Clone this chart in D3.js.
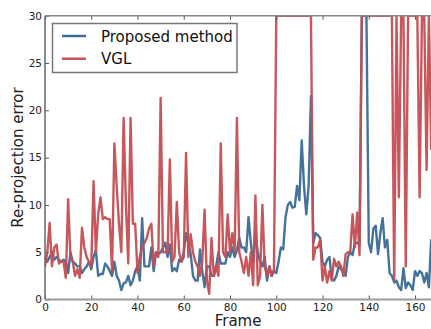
<!DOCTYPE html>
<html>
<head>
<meta charset="utf-8">
<script src="https://cdn.jsdelivr.net/npm/d3@7"></script>
<style>
  body { margin: 0; background: #fff; }
  svg { display: block; }
  .tick text { font-family: "DejaVu Sans", sans-serif; font-size: 10.5px; fill: #222; }
  .tick line { stroke: #555; stroke-width: 1; }
  .axis path.domain { display: none; }
</style>
</head>
<body>
<div id="chart"></div>
<script>
// re-projection error per frame (index = frame number)
const proposed = [
  4.5, 4, 4.5, 5, 4.2, 4.5, 4.2, 4, 4.2, 4,
  2.8, 5, 4, 3.8, 3.5, 3.5, 2.8, 3.2, 3.5, 4,
  3.2, 4.5, 5.2, 2.5, 2.7, 2.7, 3.8, 3.5, 3, 2.5,
  4, 2.5, 2, 1, 1.7, 1.8, 2.5, 1.5, 2, 3,
  3.5, 2, 8.6, 3.5, 3.5, 3.5, 5.5, 3, 5, 4.8,
  5, 5.5, 6, 4.5, 5.8, 3, 3.3, 3, 4.2, 4,
  5, 7, 6, 4.8, 2.5, 2, 2, 5.3, 3, 1.3,
  3.5, 3.5, 2.5, 2.5, 3.5, 5, 3.8, 3.8, 3.8, 5,
  4.5, 5.5, 4.5, 5.2, 6.5, 5.5, 5.5, 5, 8.7, 6,
  4, 7, 5, 4, 3.5, 4.5, 2, 3.5, 2.5, 3,
  2.8, 4, 5.5, 5.3, 8.7, 10, 10.3, 9.7, 9.8, 12,
  10.5, 16.8, 12, 9, 12, 21.5, 6, 7, 6.8, 6.5,
  4, 3.5, 4.2, 4.5, 2.2, 2, 2.5, 3.5, 3.2, 3,
  2.5, 4.5, 5, 4.7, 6, 6, 5.8, 30, 30, 30,
  6, 5, 7.5, 7.8, 4.8, 7, 8.6, 5.5, 6.3, 2.8,
  2.5, 1.8, 2, 1.3, 1, 3.3, 1.2, 1.8, 1.5, 1,
  3, 2.5, 3, 2.8, 1.8, 2.8, 1.3, 6.4
];
const vgl = [
  3.5, 5, 8.1, 3.5, 5.5, 5.8, 3.8, 4, 4, 2.3,
  10.6, 4.5, 4, 2.5, 3.2, 2.3, 7.6, 5.5, 4.5, 4,
  3.5, 12.5, 5, 9, 10.8, 8.5, 8.7, 8.5, 8.5, 3,
  16.5, 12, 8, 5, 19.2, 10, 3.8, 19.2, 8, 8,
  2.8, 4.5, 5.5, 6, 6.5, 7.5, 8, 3.5, 5, 4.5,
  21.3, 5, 5, 5, 14.8, 4, 4.5, 10.3, 5, 4,
  4.5, 15.5, 4.5, 6.9, 5, 4, 3.5, 2.5, 4, 9.5,
  2, 0.6, 6.5, 2.5, 3.5, 2.5, 16.5, 5, 4.5, 9,
  5, 7, 5, 19.2, 5, 4, 2.8, 4.5, 2.5, 5,
  1.5, 11, 1.5, 2.5, 10, 3.5, 2.5, 3.5, 2.5, 3.2,
  30, 30, 30, 30, 30, 30, 30, 30, 30, 30,
  30, 30, 30, 30, 30, 30, 4.2, 5.5, 5.5, 6.3,
  2, 3.5, 1.8, 3, 2, 4.3, 3.5, 4, 3.5, 2.5,
  4.8, 5, 5, 9, 5.5, 9.2, 4.7, 30, 30, 30,
  30, 30, 30, 30, 30, 30, 30, 30, 30, 30,
  30, 2, 30, 10.8, 30, 30, 3.5, 30, 30, 30,
  30, 30, 10.8, 30, 30, 13.7, 30, 15.8
];
const seriesNames = ['Proposed method', 'VGL'];
const seriesColors = ['#3a6a98', '#c44e52'];
const xTicks = [0, 20, 40, 60, 80, 100, 120, 140, 160];
const yTicks = [0, 5, 10, 15, 20, 25, 30];

const W = 431, H = 329;
const plotL = 45, plotR = 431.2, plotT = 15.7, plotB = 299.5;

const svg = d3.select('#chart').append('svg')
  .attr('width', W)
  .attr('height', H);

const x = d3.scaleLinear().domain([0, 167]).range([plotL, plotR]);
const y = d3.scaleLinear().domain([0, 30]).range([plotB, plotT]);

svg.append('clipPath').attr('id', 'plot-clip')
  .append('rect')
  .attr('x', plotL).attr('y', plotT)
  .attr('width', plotR - plotL).attr('height', plotB - plotT);

// series lines, VGL drawn on top
const line = d3.line()
  .x((d, i) => x(i))
  .y(d => y(d));

const plot = svg.append('g').attr('clip-path', 'url(#plot-clip)');
[proposed, vgl].forEach((s, k) => {
  plot.append('path')
    .datum(s)
    .attr('d', line)
    .attr('fill', 'none')
    .attr('stroke', seriesColors[k])
    .attr('stroke-width', 2.4)
    .attr('stroke-opacity', 0.95)
    .attr('stroke-linejoin', 'round');
});

// axes, ticks pointing inward
svg.append('g')
  .attr('class', 'axis')
  .attr('transform', 'translate(0,' + plotB + ')')
  .call(d3.axisBottom(x).tickValues(xTicks).tickSizeInner(-4).tickSizeOuter(0).tickPadding(4));
svg.append('g')
  .attr('class', 'axis')
  .attr('transform', 'translate(0,' + plotT + ')')
  .call(d3.axisTop(x).tickValues(xTicks).tickSizeInner(-4).tickSizeOuter(0).tickFormat(''));
svg.append('g')
  .attr('class', 'axis')
  .attr('transform', 'translate(' + plotL + ',0)')
  .call(d3.axisLeft(y).tickValues(yTicks).tickSizeInner(-4).tickSizeOuter(0).tickPadding(3));

// spines
svg.append('line').attr('x1', plotL).attr('x2', plotL).attr('y1', plotT).attr('y2', plotB)
  .attr('stroke', '#666').attr('stroke-width', 1.5);
svg.append('line').attr('x1', plotL).attr('x2', W).attr('y1', plotB).attr('y2', plotB)
  .attr('stroke', '#999').attr('stroke-width', 1.8);
svg.append('line').attr('x1', plotL).attr('x2', W).attr('y1', plotT).attr('y2', plotT)
  .attr('stroke', '#888').attr('stroke-width', 1.5);

// axis titles
svg.append('text')
  .attr('x', (plotL + plotR) / 2)
  .attr('y', 325.5)
  .attr('text-anchor', 'middle')
  .style('font-family', '"DejaVu Sans", sans-serif')
  .style('font-size', '15px')
  .style('fill', '#222')
  .text('Frame');

svg.append('text')
  .attr('transform', 'translate(23,' + ((plotT + plotB) / 2) + ') rotate(-90)')
  .attr('text-anchor', 'middle')
  .style('font-family', '"DejaVu Sans", sans-serif')
  .style('font-size', '15px')
  .style('fill', '#222')
  .text('Re-projection error');

// legend
const legend = svg.append('g').attr('class', 'legend');
legend.append('rect')
  .attr('x', 52.5).attr('y', 23.5)
  .attr('width', 184.5).attr('height', 49)
  .attr('fill', '#fff')
  .attr('stroke', '#777')
  .attr('stroke-width', 1.5);
seriesNames.forEach((name, k) => {
  const ly = 36 + k * 22.7;
  legend.append('line')
    .attr('x1', 62).attr('x2', 86)
    .attr('y1', ly).attr('y2', ly)
    .attr('stroke', seriesColors[k])
    .attr('stroke-width', 2.4);
  legend.append('text')
    .attr('x', 101)
    .attr('y', ly + 5.5)
    .style('font-family', '"DejaVu Sans", sans-serif')
    .style('font-size', '15px')
    .style('fill', '#111')
    .text(name);
});
</script>
</body>
</html>
